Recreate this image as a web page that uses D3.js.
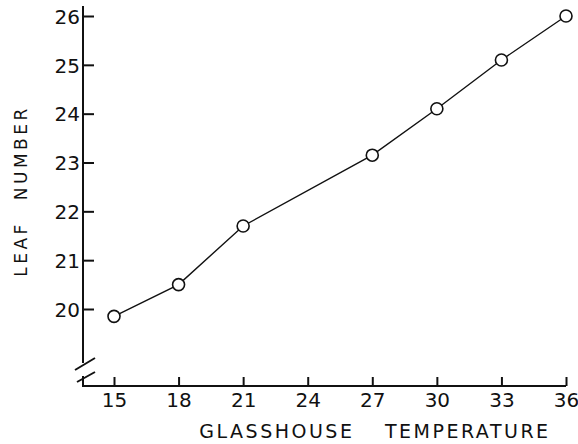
<!DOCTYPE html>
<meta charset="utf-8">
<head>
<style>
body { margin: 0; background: #fff; }
svg text {
  font-family: "DejaVu Sans", sans-serif;
  font-size: 20px;
  fill: #111;
}
.title { font-size: 19px; letter-spacing: 2.5px; }
.axis line, .frame { stroke: #111; stroke-width: 2; fill: none; }
.series { stroke: #111; stroke-width: 1.4; fill: none; }
.dot { fill: #fff; stroke: #111; stroke-width: 1.6; }
</style>
</head>
<body>
<svg width="578" height="444"></svg>
<script src="https://d3js.org/d3.v7.min.js"></script>
<script>

var temps = [15, 18, 21, 27, 30, 33, 36],
    leaves = [19.85, 20.5, 21.7, 23.15, 24.1, 25.1, 26.0],
    xTicks = [15, 18, 21, 24, 27, 30, 33, 36],
    yTicks = [20, 21, 22, 23, 24, 25, 26];

var svg = d3.select("svg");

var x = d3.scaleLinear().domain([15, 36]).range([114, 566]),
    y = d3.scaleLinear().domain([20, 26]).range([309, 16]);

var axisX = 83, axisY = 386;

// y axis: line with a break near the bottom
svg.append("path").attr("class", "frame")
    .attr("d", "M" + axisX + "," + (y(26) - 10) + "V363");
svg.append("path").attr("class", "frame")
    .attr("d", "M" + axisX + ",376V" + axisY + "H" + x(36));
svg.append("path").attr("class", "frame")
    .attr("d", "M75,370L95,358M77,382L95,372");

var yAxis = svg.append("g").attr("class", "axis")
    .attr("transform", "translate(" + axisX + ",0)")
    .call(d3.axisRight(y).tickValues(yTicks).tickSize(11).tickFormat(d3.format("d")));
yAxis.select(".domain").remove();
yAxis.selectAll("text").attr("x", -3).attr("text-anchor", "end").attr("dy", "0.36em");

var xAxis = svg.append("g").attr("class", "axis")
    .attr("transform", "translate(0," + axisY + ")")
    .call(d3.axisTop(x).tickValues(xTicks).tickSize(9).tickFormat(d3.format("d")));
xAxis.select(".domain").remove();
xAxis.selectAll("text").attr("y", 21).attr("dy", "0");

svg.append("text").attr("class", "title")
    .attr("transform", "translate(27,191) rotate(-90)")
    .attr("text-anchor", "middle")
    .attr("word-spacing", "12px")
    .style("font-size", "17px")
    .style("letter-spacing", "3.5px")
    .text("LEAF NUMBER");

svg.append("text").attr("class", "title")
    .attr("x", 375).attr("y", 438)
    .attr("text-anchor", "middle")
    .attr("word-spacing", "22px")
    .text("GLASSHOUSE TEMPERATURE");

var pts = temps.map(function(t, i) { return [t, leaves[i]]; });

svg.append("path").attr("class", "series")
    .attr("d", d3.line().x(function(d) { return x(d[0]); }).y(function(d) { return y(d[1]); })(pts));

svg.selectAll(".dot").data(pts)
  .enter().append("circle").attr("class", "dot")
    .attr("cx", function(d) { return x(d[0]); })
    .attr("cy", function(d) { return y(d[1]); })
    .attr("r", 6);

</script>
</body>
